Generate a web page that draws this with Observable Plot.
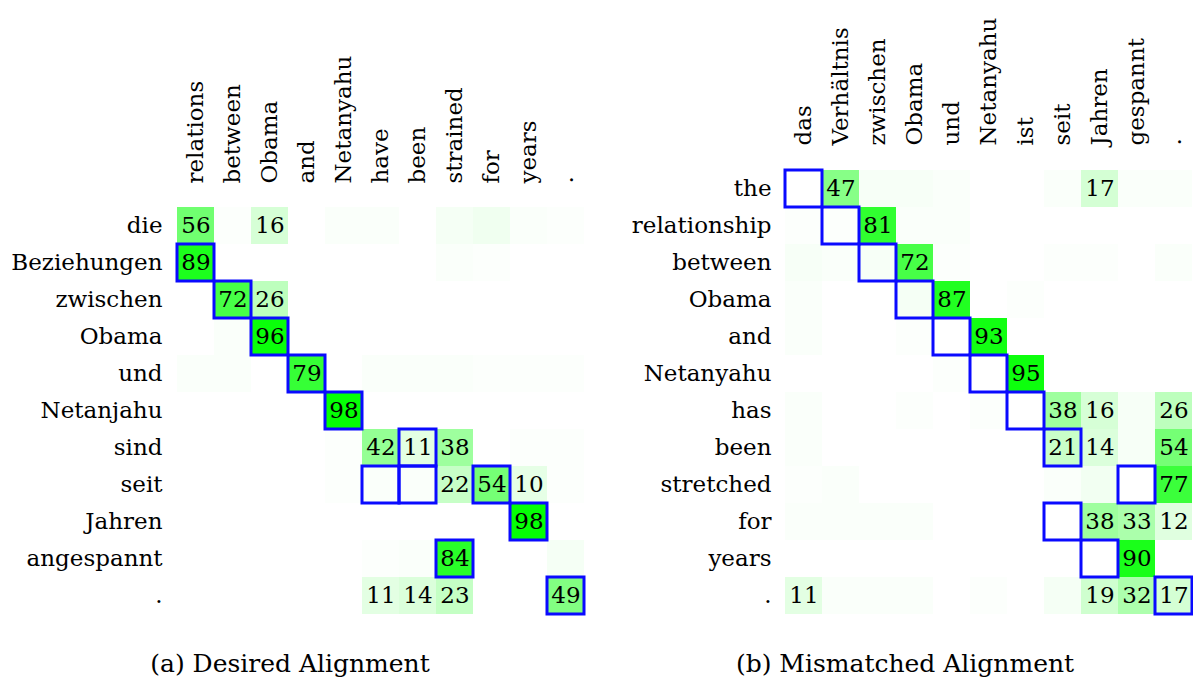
<!DOCTYPE html>
<html><head><meta charset="utf-8">
<script src="https://cdn.jsdelivr.net/npm/d3@7"></script>
<script src="https://cdn.jsdelivr.net/npm/@observablehq/plot@0.6"></script>
<style>
html,body{margin:0;padding:0;background:#fff;overflow:hidden;}
#wrap{position:relative;width:1193px;height:682px;overflow:hidden;}
.panel{position:absolute;top:0;}
.cap{position:absolute;font-family:"DejaVu Serif";font-size:25px;color:#000;white-space:nowrap;transform:translateX(-50%);}
</style></head><body><div id="wrap"></div>
<script>
// ---- Panel (a): Desired Alignment ----
const leftRows = ["die","Beziehungen","zwischen","Obama","und","Netanjahu","sind","seit","Jahren","angespannt","."];
const leftCols = ["relations","between","Obama","and","Netanyahu","have","been","strained","for","years","."];
const leftValues = [
  [56, 1, 16, 0, 2, 2, 0, 4, 6, 2, 1],
  [89, 0, 0, 0, 0, 0, 0, 2, 1, 0, 0],
  [0, 72, 26, 0, 0, 0, 0, 0, 0, 0, 0],
  [0, 2, 96, 0, 0, 0, 0, 0, 0, 0, 0],
  [2, 2, 0, 79, 0, 2, 2, 2, 1, 1, 1],
  [0, 0, 0, 0, 98, 0, 0, 0, 0, 0, 0],
  [0, 0, 0, 0, 1, 42, 11, 38, 0, 1, 1],
  [0, 0, 0, 0, 1, 2, 2, 22, 54, 10, 1],
  [0, 0, 0, 0, 0, 0, 0, 0, 0, 98, 0],
  [0, 0, 0, 0, 0, 1, 2, 84, 0, 0, 4],
  [0, 0, 0, 0, 0, 11, 14, 23, 0, 0, 49]
];
const leftBoxes = [[1,0],[2,1],[3,2],[4,3],[5,4],[6,6],[7,5],[7,6],[7,8],[8,9],[9,7],[10,10]];
const leftCaption = "(a) Desired Alignment";

// ---- Panel (b): Mismatched Alignment ----
const rightRows = ["the","relationship","between","Obama","and","Netanyahu","has","been","stretched","for","years","."];
const rightCols = ["das","Verhältnis","zwischen","Obama","und","Netanyahu","ist","seit","Jahren","gespannt","."];
const rightValues = [
  [0, 47, 3, 3, 2, 0, 0, 2, 17, 2, 2],
  [1, 1, 81, 2, 2, 0, 0, 0, 0, 0, 0],
  [3, 2, 3, 72, 1, 0, 0, 1, 1, 0, 2],
  [2, 0, 0, 4, 87, 0, 1, 0, 0, 0, 0],
  [2, 0, 0, 1, 0, 93, 0, 0, 0, 0, 0],
  [0, 0, 0, 0, 1, 0, 95, 0, 0, 0, 0],
  [2, 0, 0, 1, 0, 1, 0, 38, 16, 3, 26],
  [2, 0, 0, 0, 0, 0, 0, 21, 14, 3, 54],
  [1, 2, 0, 0, 0, 0, 0, 2, 5, 0, 77],
  [2, 2, 2, 2, 0, 0, 0, 0, 38, 33, 12],
  [0, 0, 0, 0, 0, 0, 0, 0, 0, 90, 0],
  [11, 2, 2, 2, 0, 1, 0, 4, 19, 32, 17]
];
const rightBoxes = [[0,0],[1,1],[2,2],[3,3],[4,4],[5,5],[6,6],[7,7],[8,9],[9,7],[10,8],[11,10]];
const rightCaption = "(b) Mismatched Alignment";

const FONT = "DejaVu Serif";
const FS = 23;

function build(rows, cols, values, boxes, m) {
  const cells = [];
  rows.forEach((r, i) => cols.forEach((c, j) => cells.push({row: r, col: c, v: values[i][j]})));
  const boxCells = boxes.map(([i, j]) => ({row: rows[i], col: cols[j]}));
  return Plot.plot({
    width: m.width, height: m.height,
    marginLeft: m.left, marginRight: m.right, marginTop: m.top, marginBottom: m.bottom,
    x: {domain: cols, padding: 0, axis: null},
    y: {domain: rows, padding: 0, axis: null},
    color: {type: "linear", domain: [0, 100], range: ["#ffffff", "#00ff00"], interpolate: "rgb"},
    style: {fontFamily: FONT, fontSize: FS + "px", color: "#000", background: "#fff", overflow: "visible"},
    marks: [
      Plot.cell(cells, {x: "col", y: "row", fill: "v", inset: 0}),
      Plot.text(cells.filter(d => d.v >= 10), {x: "col", y: "row", text: d => String(d.v), fontSize: FS, fill: "#000"}),
      Plot.cell(boxCells, {x: "col", y: "row", fill: "none", stroke: "#0a0aff", strokeWidth: 3, inset: 0}),
      Plot.axisX({anchor: "top", tickSize: 0, tickPadding: 20, tickRotate: -90, fontSize: FS, label: null, fill: "#000"}),
      Plot.axisY({anchor: "left", tickSize: 0, tickPadding: 10, fontSize: FS, label: null, fill: "#000"})
    ]
  });
}

const wrap = document.getElementById("wrap");
const left = build(leftRows, leftCols, leftValues, leftBoxes, {width: 600, height: 640, left: 172, right: 12, top: 203, bottom: 22});
left.classList.add("panel"); left.style.left = "0px";
wrap.appendChild(left);
const right = build(rightRows, rightCols, rightValues, rightBoxes, {width: 600, height: 640, left: 181, right: 4, top: 165, bottom: 22});
right.classList.add("panel"); right.style.left = "600px";
wrap.appendChild(right);

const c1 = document.createElement("div"); c1.className = "cap"; c1.textContent = leftCaption;
c1.style.left = "290px"; c1.style.top = "649px"; wrap.appendChild(c1);
const c2 = document.createElement("div"); c2.className = "cap"; c2.textContent = rightCaption;
c2.style.left = "905px"; c2.style.top = "649px"; wrap.appendChild(c2);
</script></body></html>
